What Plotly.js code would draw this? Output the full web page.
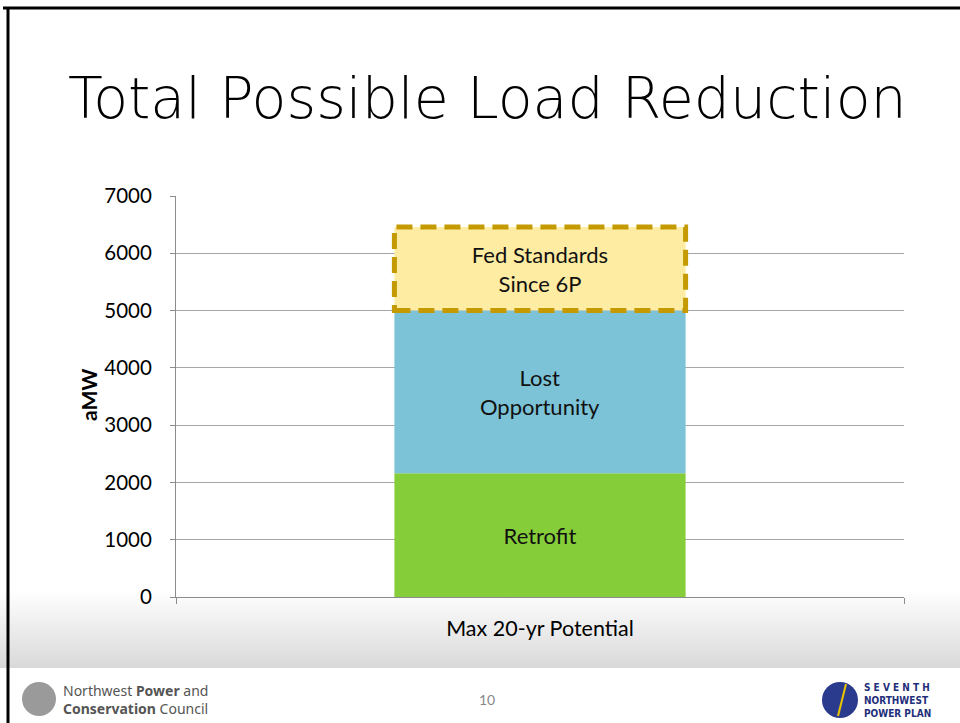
<!DOCTYPE html>
<html>
<head>
<meta charset="utf-8">
<script src="https://cdn.plot.ly/plotly-3.0.1.min.js"></script>
<style>html,body{margin:0;padding:0;background:#fff;}#chart{width:960px;height:723px;}</style>
</head>
<body>
<div id="chart"></div>
<script>
// ---- data ----
const categories = ['Max 20-yr Potential'];
const retrofit = [2160];
const lostOpportunity = [2840];
const fedStandards = [1460];
const seriesLabels = ['Retrofit', 'Lost<br>Opportunity', 'Fed Standards<br>Since 6P'];
const yTicks = [0, 1000, 2000, 3000, 4000, 5000, 6000, 7000];

// ---- layout geometry ----
const W = 960, H = 723;
const M = {l: 176, r: 56, t: 196, b: 126};
const PW = W - M.l - M.r, PH = H - M.t - M.b;
const px = x => (x - M.l) / PW;
const py = y => (H - M.b - y) / PH;
const barWidth = 0.4;
const FONT = 'Lato, "Open Sans", sans-serif';

const retroBase = retrofit.map(() => 0);
const lostBase = retrofit.slice();
const fedBase = retrofit.map((v, i) => v + lostOpportunity[i]);

function barTrace(vals, base, color, label) {
  return {
    type: 'bar', x: categories, y: vals, base: base, width: barWidth,
    marker: {color: color, line: {width: 0}},
    text: vals.map(() => label), textposition: 'inside', insidetextanchor: 'middle',
    textangle: 0, constraintext: 'none',
    textfont: {family: FONT, size: 22, color: '#111'},
    hoverinfo: 'y', showlegend: false
  };
}

const traces = [
  barTrace(retrofit, retroBase, '#86cd3a', seriesLabels[0]),
  barTrace(lostOpportunity, lostBase, '#7cc3d7', seriesLabels[1]),
  barTrace(fedStandards, fedBase, '#fdeca2', seriesLabels[2])
];

const bandSvg = 'data:image/svg+xml;utf8,' + encodeURIComponent(
  '<svg xmlns="http://www.w3.org/2000/svg" width="100" height="100" preserveAspectRatio="none">' +
  '<defs><linearGradient id="g" x1="0" y1="0" x2="0" y2="1">' +
  '<stop offset="0" stop-color="#ffffff"/><stop offset="1" stop-color="#d9d9d9"/></linearGradient></defs>' +
  '<rect width="100" height="100" fill="url(#g)"/></svg>');

const shapes = [];
// dashed outline around Fed Standards segment
categories.forEach((c, i) => {
  shapes.push({type: 'rect', xref: 'x', yref: 'y', layer: 'above',
    x0: i - barWidth / 2, x1: i + barWidth / 2,
    y0: fedBase[i], y1: fedBase[i] + fedStandards[i],
    line: {color: '#c49a00', width: 5, dash: '16px,8px'}, fillcolor: 'rgba(0,0,0,0)'});
});
// slide border
shapes.push({type: 'line', xref: 'paper', yref: 'paper', x0: px(3), x1: px(960), y0: py(8), y1: py(8), line: {color: '#000', width: 3}});
shapes.push({type: 'line', xref: 'paper', yref: 'paper', x0: px(8), x1: px(8), y0: py(7), y1: py(723), line: {color: '#000', width: 3}});
// footer logos (decorative)
shapes.push({type: 'circle', xref: 'paper', yref: 'paper', x0: px(22), x1: px(56), y0: py(716), y1: py(682), fillcolor: '#9a9a9a', line: {width: 0}});
shapes.push({type: 'circle', xref: 'paper', yref: 'paper', x0: px(822), x1: px(858), y0: py(718), y1: py(682), fillcolor: '#2a3a8c', line: {width: 0}});
shapes.push({type: 'line', xref: 'paper', yref: 'paper', x0: px(838), x1: px(846), y0: py(716), y1: py(684), line: {color: '#e6c200', width: 2}});

const annotations = [
  {text: '<b>aMW</b>', xref: 'paper', yref: 'paper', x: px(88), y: py(395), textangle: -90,
   showarrow: false, font: {family: FONT, size: 21, color: '#000'}, xanchor: 'center', yanchor: 'middle'},
  {text: 'Northwest <b>Power</b> and<br><b>Conservation</b> Council', xref: 'paper', yref: 'paper',
   x: px(61), y: py(699), xanchor: 'left', yanchor: 'middle', align: 'left', showarrow: false,
   font: {family: '"Noto Sans", sans-serif', size: 14, color: '#555'}},
  {text: '10', xref: 'paper', yref: 'paper', x: px(487), y: py(699), xanchor: 'center', yanchor: 'middle',
   showarrow: false, font: {family: FONT, size: 14, color: '#888'}},
  {text: '<b>S E V E N T H<br>NORTHWEST<br>POWER PLAN</b>', xref: 'paper', yref: 'paper',
   x: px(862), y: py(700), xanchor: 'left', yanchor: 'middle', align: 'left', showarrow: false,
   font: {family: '"DejaVu Sans Condensed", "DejaVu Sans", sans-serif', size: 10, color: '#1f2f7a'}}
];

const layout = {
  width: W, height: H,
  margin: M,
  paper_bgcolor: '#ffffff', plot_bgcolor: 'rgba(0,0,0,0)',
  title: {text: 'Total Possible Load Reduction', xref: 'container', yref: 'container',
    x: 68 / W, xanchor: 'left', y: 1 - 98 / H, yanchor: 'middle',
    font: {family: '"DejaVu Sans", sans-serif', size: 57, color: '#000', weight: 300}},
  barmode: 'overlay',
  xaxis: {type: 'category', range: [-0.5, categories.length - 0.5],
    showgrid: false, showline: true, linecolor: '#8c8c8c', linewidth: 1,
    ticks: 'outside', tickson: 'boundaries', ticklen: 6, tickcolor: '#8c8c8c',
    ticklabelstandoff: 12,
    tickfont: {family: FONT, size: 21.5, color: '#000'}, fixedrange: true},
  yaxis: {range: [0, 7000], tickvals: yTicks, ticktext: yTicks.map(String),
    showgrid: true, gridcolor: '#a6a6a6', gridwidth: 1, zeroline: false,
    showline: true, linecolor: '#8c8c8c', linewidth: 1,
    ticks: 'outside', ticklen: 5, tickcolor: '#8c8c8c', ticklabelstandoff: 14,
    tickfont: {family: FONT, size: 20.5, color: '#000'}, fixedrange: true},
  images: [{source: bandSvg, xref: 'paper', yref: 'paper', x: px(0), y: py(590),
    sizex: px(960) - px(0), sizey: py(590) - py(668), sizing: 'stretch',
    xanchor: 'left', yanchor: 'top', layer: 'below'}],
  shapes: shapes,
  annotations: annotations,
  showlegend: false
};

Plotly.newPlot('chart', traces, layout, {displayModeBar: false, staticPlot: true});
</script>
</body>
</html>
